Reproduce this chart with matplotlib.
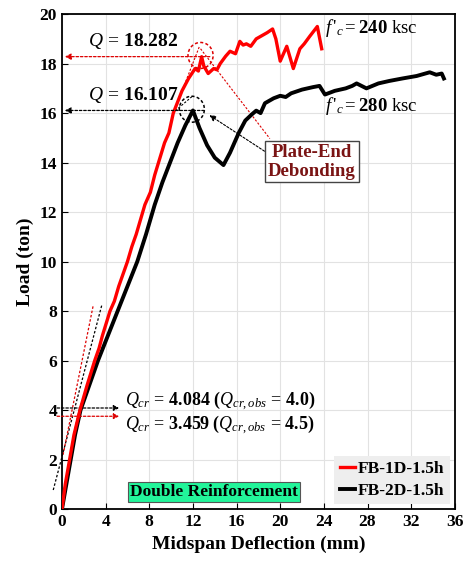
import matplotlib
matplotlib.use("Agg")
import matplotlib.pyplot as plt
from matplotlib.patches import Ellipse
import numpy as np

plt.rcParams['font.family'] = 'Liberation Serif'
plt.rcParams['font.weight'] = 'bold'
plt.rcParams['mathtext.fontset'] = 'custom'
plt.rcParams['mathtext.rm'] = 'Liberation Serif:weight=normal'
plt.rcParams['mathtext.it'] = 'Liberation Serif:style=italic:weight=normal'
plt.rcParams['mathtext.bf'] = 'Liberation Serif:weight=bold'

# FB-1D-1.5h (f'c = 240 ksc)
rojo_x = [0, 0.3, 0.7, 1.1, 1.65, 2.3, 3.0, 3.4, 3.7, 4.4, 4.8, 5.2, 6.0, 6.4, 6.8, 7.6, 8.1,
          8.5, 9.4, 9.8, 10.2, 11.0, 11.6, 12.2, 12.5, 12.8, 13.0, 13.4, 13.9, 14.2, 14.5,
          15.0, 15.4, 15.9, 16.3, 16.6, 16.9, 17.3, 17.8, 18.2, 18.8, 19.3, 19.6, 20.0,
          20.6, 21.2, 21.8, 22.2, 22.7, 23.4, 23.8]
rojo_y = [0, 1, 2, 3, 4, 5, 6, 6.5, 7, 8, 8.4, 9, 10, 10.6, 11.1, 12.3, 12.8,
          13.5, 14.8, 15.2, 16.0, 16.9, 17.4, 17.8, 17.7, 18.28, 17.9, 17.6, 17.8, 17.75, 18.0,
          18.3, 18.5, 18.4, 18.9, 18.75, 18.8, 18.7, 19.0, 19.1, 19.25, 19.4, 19.0, 18.1,
          18.7, 17.8, 18.6, 18.8, 19.1, 19.5, 18.6]

# FB-2D-1.5h (f'c = 280 ksc)
negro_x = [0, 0.4, 0.8, 1.2, 1.7, 2.5, 3.3, 4.2, 5.1, 6.0, 6.9, 7.7, 8.5, 9.2, 9.9, 10.6,
           11.3, 12.0, 12.6, 13.3, 14.0, 14.8, 15.4, 16.2, 16.8, 17.4, 17.8, 18.2, 18.6,
           19.4, 20.0, 20.5, 21.0, 22.0, 23.0, 23.6, 24.1, 25.0, 26.0, 26.6, 27.0, 27.9,
           29.0, 30.0, 31.2, 32.5, 33.7, 34.3, 34.8, 35.0]
negro_y = [0, 1, 2, 3, 4, 5, 6, 7, 8, 9, 10, 11.1, 12.3, 13.2, 14.0, 14.8,
           15.5, 16.107, 15.4, 14.7, 14.2, 13.9, 14.4, 15.2, 15.7, 15.95, 16.1, 16.0, 16.4,
           16.6, 16.7, 16.65, 16.8, 16.95, 17.05, 17.1, 16.75, 16.9, 17.0, 17.1, 17.2, 17.0,
           17.2, 17.3, 17.4, 17.5, 17.65, 17.55, 17.6, 17.4]

q_max = [18.282, 16.107]
q_cr = [4.084, 3.459]
q_cr_obs = [4.0, 4.5]
x_ticks = list(range(0, 37, 4))
y_ticks = list(range(0, 21, 2))

fig = plt.figure(figsize=(4.66, 5.65), dpi=100)
ax = fig.add_axes([0.133, 0.099, 0.843, 0.876])

ax.plot(rojo_x, rojo_y, color='#ff0000', lw=2.4, label='FB-1D-1.5h', zorder=4)
ax.plot(negro_x, negro_y, color='black', lw=2.8, label='FB-2D-1.5h', zorder=3)

ax.set_xlim(0, 36)
ax.set_ylim(0, 20)
ax.set_xticks(x_ticks)
ax.set_yticks(y_ticks)
ax.grid(True, color='#e2e2e2', lw=0.8)
ax.set_axisbelow(True)
ax.tick_params(direction='in', labelsize=12.5, length=4)
for s in ax.spines.values():
    s.set_linewidth(1.3)
ax.set_xlabel('Midspan Deflection (mm)', fontsize=14, fontweight='bold')
ax.set_ylabel('Load (ton)', fontsize=14, fontweight='bold', labelpad=4)

punteado = (0, (2, 1.5))

# picos
i_r = int(np.argmax(rojo_y[:30]))
i_n = int(np.argmax(negro_y[:20]))
picos = [(rojo_x[i_r], rojo_y[i_r], '#dd0000'), (negro_x[i_n], negro_y[i_n], 'black')]
for (px, py, c) in picos:
    ax.add_patch(Ellipse((px - 0.1, py + 0.05), 2.3, 1.05, fill=False, ec=c, lw=1.1,
                         ls=punteado, zorder=5))

ax.annotate('', xy=(0, q_max[0]), xytext=(13.8, q_max[0]),
            arrowprops=dict(arrowstyle='-|>', color='#dd0000', lw=0.9, ls=punteado,
                            mutation_scale=9), annotation_clip=False, zorder=6)
ax.annotate('', xy=(0, q_max[1]), xytext=(13.3, q_max[1]),
            arrowprops=dict(arrowstyle='-|>', color='black', lw=0.9, ls=punteado,
                            mutation_scale=9), annotation_clip=False, zorder=6)
ax.text(2.4, 18.9, r'$Q\,=\,\mathbf{%.3f}$' % q_max[0], fontsize=14, va='center')
ax.text(2.4, 16.75, r'$Q\,=\,\mathbf{%.3f}$' % q_max[1], fontsize=14, va='center')

# secantes cerca del pico
ax.plot([10.3, 12.6], [16.1, 18.7], color='#dd0000', lw=0.8, ls=punteado)
ax.plot([10.4, 12.0], [16.1, 16.7], color='black', lw=0.8, ls=punteado)

# tangentes iniciales
ax.plot([-0.8, 3.66], [0.77, 8.26], color='black', lw=0.9, ls=punteado, clip_on=False)
ax.plot([0.1, 2.85], [2.2, 8.2], color='#dd0000', lw=0.9, ls=punteado)

ax.annotate('', xy=(5.5, q_cr[0]), xytext=(-0.7, q_cr[0]),
            arrowprops=dict(arrowstyle='-|>', color='black', lw=0.9, ls=punteado,
                            mutation_scale=8), annotation_clip=False)
ax.annotate('', xy=(5.5, 3.75), xytext=(-0.7, 3.75),
            arrowprops=dict(arrowstyle='-|>', color='#dd0000', lw=0.9, ls=punteado,
                            mutation_scale=8), annotation_clip=False)
ax.text(5.8, 4.38, r'$Q_{cr}\,=\,\mathbf{%.3f\ (}Q_{cr,obs}\,=\,\mathbf{%.1f)}$'
        % (q_cr[0], q_cr_obs[0]), fontsize=13, va='center')
ax.text(5.8, 3.41, r'$Q_{cr}\,=\,\mathbf{%.3f\ (}Q_{cr,obs}\,=\,\mathbf{%.1f)}$'
        % (q_cr[1], q_cr_obs[1]), fontsize=13, va='center')

# f'c
ax.text(24.1, 19.43, r"$f\,'_c = \mathbf{240}$ ksc", fontsize=13.5, va='center',
        fontweight='normal')
ax.text(24.1, 16.27, r"$f\,'_c = \mathbf{280}$ ksc", fontsize=13.5, va='center',
        fontweight='normal')

# Plate-End Debonding
ax.plot([12.7, 19.05], [18.6, 14.97], color='#dd0000', lw=0.8, ls=punteado)
ax.annotate('', xy=(13.3, 15.98), xytext=(18.77, 14.4),
            arrowprops=dict(arrowstyle='-|>', color='black', lw=0.8, ls=punteado,
                            mutation_scale=9))
ax.text(22.9, 14.04, 'Plate-End\nDebonding', fontsize=13.5, color='#7a1414',
        ha='center', va='center', linespacing=1.15,
        bbox=dict(boxstyle='square,pad=0.15', fc='white', ec='#444444', lw=1.0), zorder=7)

ax.text(13.9, 0.69, 'Double Reinforcement', fontsize=12.5, ha='center', va='center',
        bbox=dict(boxstyle='square,pad=0.12', fc='#22f59a', ec='#555555', lw=0.8))

leg = ax.legend(loc='lower right', fontsize=12.5, frameon=True, fancybox=False,
                handlelength=0.9, handletextpad=0.15, borderaxespad=0.3,
                labelspacing=0.3, borderpad=0.3)
leg.get_frame().set_facecolor('#eeeeee')
leg.get_frame().set_edgecolor('none')
leg.get_frame().set_alpha(1)

fig.savefig('out.png', dpi=100)
